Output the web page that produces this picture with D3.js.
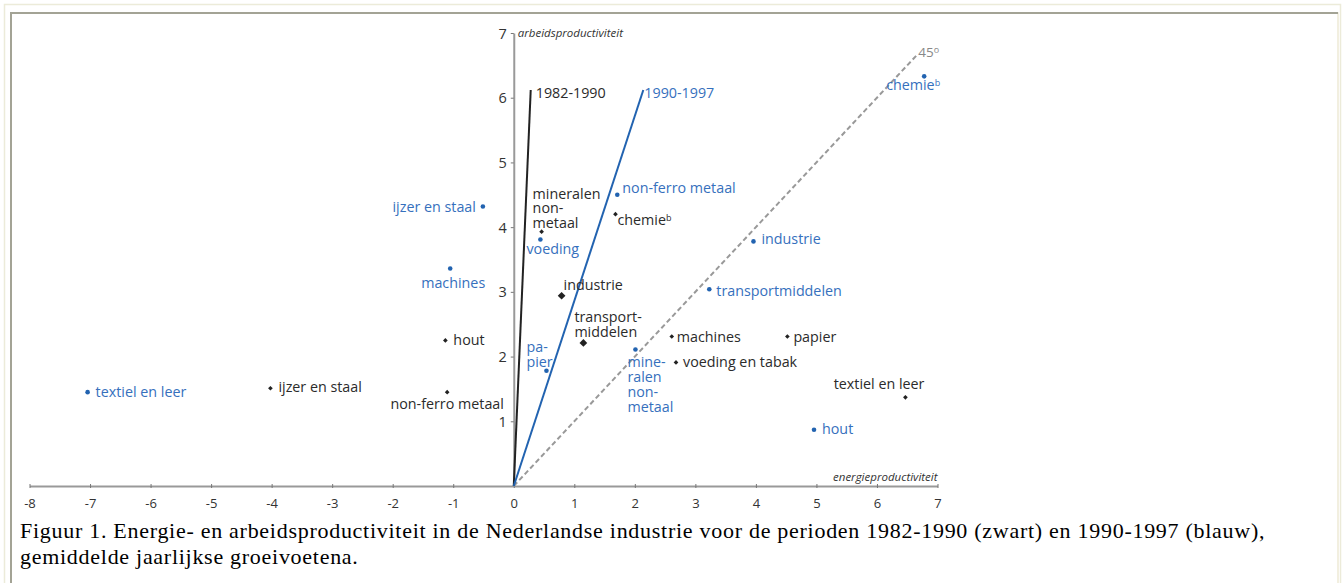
<!DOCTYPE html>
<html><head><meta charset="utf-8">
<script src="https://cdn.jsdelivr.net/npm/d3@7"></script>
<style>
body{margin:0;background:#fff;}
svg{display:block;}
</style>
</head><body>
<svg id="c" width="1344" height="583"></svg>
<script>
// ---- data ----
const xTicks = [-8,-7,-6,-5,-4,-3,-2,-1,0,1,2,3,4,5,6,7];
const yTicks = [1,2,3,4,5,6,7];
const periods = ["1982-1990","1990-1997"];
const trendEndX = [0.28, 2.14];
const trendEndY = [6.12, 6.12];
const diagonalEnd = [6.65, 6.65];
const diagonalLabel = "45";

const blackNames = ["mineralen\nnon-\nmetaal","chemie^b","industrie","transport-\nmiddelen","hout","non-ferro metaal","ijzer en staal","machines","papier","voeding en tabak","textiel en leer"];
const blackX = [0.46,1.68,0.79,1.15,-1.13,-1.10,-4.02,2.61,4.52,2.68,6.47];
const blackY = [3.93,4.20,2.94,2.21,2.25,1.45,1.51,2.31,2.31,1.91,1.37];

const blueNames = ["non-ferro metaal","ijzer en staal","voeding","machines","pa-\npier","mine-\nralen\nnon-\nmetaal","industrie","transportmiddelen","hout","textiel en leer","chemie^b"];
const blueX = [1.71,-0.51,0.44,-1.05,0.54,2.01,3.96,3.23,4.96,-7.04,6.78];
const blueY = [4.50,4.32,3.81,3.36,1.78,2.11,3.78,3.04,0.87,1.45,6.33];

const xTitle = "energieproductiviteit";
const yTitle = "arbeidsproductiviteit";
const captionLines = [
  "Figuur 1. Energie- en arbeidsproductiviteit in de Nederlandse industrie voor de perioden 1982-1990 (zwart) en 1990-1997 (blauw),",
  "gemiddelde jaarlijkse groeivoetena."
];

// ---- layout (label placement relative to points, px) ----
const blackLabelPos = [[-9,-38,"start"],[2,6,"start"],[2,-11,"start"],[-9,-26,"start"],[8,0,"start"],[0,12,"middle"],[8,-1,"start"],[5,0,"start"],[6,0,"start"],[7,0,"start"],[19,-13,"end"]];
const blueLabelPos = [[5,-7,"start"],[-7,1,"end"],[-14,10,"start"],[3,14,"middle"],[-20,-24,"start"],[-8,13,"start"],[8,-2,"start"],[7,2,"start"],[8,-1,"start"],[8,0,"start"],[16,9,"end"]];
const bigBlack = [2,3];

const BLACK = "#222", TEXTBLACK = "#2b2b2b", BLUE = "#2263b0", TEXTBLUE = "#3670bd", GREY = "#999";
const FONT = "'Open Sans', sans-serif";
const LABEL_SIZE = "14.3px";

const svg = d3.select("#c");

// frame
svg.append("rect").attr("x",4.5).attr("y",4.5).attr("width",1336).attr("height",640)
  .attr("fill","none").attr("stroke","#ecebd9").attr("stroke-width",1.5);
svg.append("rect").attr("x",11).attr("y",13).attr("width",1327).attr("height",640)
  .attr("fill","#fff").attr("stroke","#eeead6").attr("stroke-width",1.5);
svg.append("path").attr("d","M11,600V13H1338").attr("fill","none").attr("stroke","#a3a395").attr("stroke-width",2);

const x = d3.scaleLinear().domain([-8,7]).range([29.5,937.5]);
const y = d3.scaleLinear().domain([0,7]).range([486,33]);

// x axis
const gx = svg.append("g").attr("transform",`translate(0,${y(0)})`)
  .call(d3.axisBottom(x).tickValues(xTicks).tickSize(2).tickSizeOuter(0).tickFormat(d=>String(d)));
gx.select(".domain").attr("stroke",GREY).attr("stroke-width",2);
gx.selectAll(".tick line").attr("stroke","#777").attr("y1",-2).attr("y2",2);
gx.selectAll(".tick text").attr("y",17).attr("dy","0.35em").attr("fill","#333")
  .style("font-family",FONT).style("font-size","13px");

// y axis
const gy = svg.append("g").attr("transform",`translate(${x(0)},0)`)
  .call(d3.axisLeft(y).tickValues(yTicks).tickSize(3).tickPadding(4).tickSizeOuter(0).tickFormat(d=>String(d)));
gy.select(".domain").attr("stroke",GREY).attr("stroke-width",2);
gy.selectAll(".tick line").attr("stroke","#777");
gy.selectAll(".tick text").attr("fill","#333").attr("dy","0.35em")
  .style("font-family",FONT).style("font-size","14.5px");

// axis titles
svg.append("text").attr("x",x(0)+4).attr("y",y(7)).attr("dy","0.35em")
  .style("font-family",FONT).style("font-size","11.5px").style("font-style","italic")
  .attr("fill","#333").text(yTitle);
svg.append("text").attr("x",x(7)).attr("y",y(0)-9).attr("dy","0.35em").attr("text-anchor","end")
  .style("font-family",FONT).style("font-size","11.5px").style("font-style","italic")
  .attr("fill","#333").text(xTitle);

// diagonal 45
svg.append("line").attr("x1",x(0)).attr("y1",y(0)).attr("x2",x(diagonalEnd[0])).attr("y2",y(diagonalEnd[1]))
  .attr("stroke",GREY).attr("stroke-width",2).attr("stroke-dasharray","5,3");
const dl = svg.append("text").attr("x",x(diagonalEnd[0])+2).attr("y",y(diagonalEnd[1])-3).attr("dy","0.35em")
  .style("font-family",FONT).style("font-size","13.5px").attr("fill","#888");
dl.append("tspan").text(diagonalLabel);
dl.append("tspan").attr("dy","-0.5em").style("font-size","9px").text("o");

// trend lines
const trendColors = [BLACK, BLUE];
const trendText = [TEXTBLACK, TEXTBLUE];
periods.forEach((p,i)=>{
  svg.append("line").attr("x1",x(0)).attr("y1",y(0)).attr("x2",x(trendEndX[i])).attr("y2",y(trendEndY[i]))
    .attr("stroke",trendColors[i]).attr("stroke-width",2);
  svg.append("text").attr("x",x(trendEndX[i])+(i===0?5:1)).attr("y",y(trendEndY[i])+3).attr("dy","0.35em")
    .style("font-family",FONT).style("font-size",LABEL_SIZE).attr("fill",trendText[i]).text(p);
});

function drawLabel(name, px, py, pos, color){
  const t = svg.append("text").attr("text-anchor",pos[2])
    .style("font-family",FONT).style("font-size",LABEL_SIZE).attr("fill",color);
  const lines = name.split("\n");
  lines.forEach((ln,k)=>{
    const parts = ln.split("^");
    t.append("tspan").attr("x",px+pos[0]).attr("y",py+pos[1]+k*14.7).attr("dy","0.35em").text(parts[0]);
    if(parts[1]) t.append("tspan").attr("dy","-0.45em").style("font-size","9px").text(parts[1]);
  });
}

// black points
blackNames.forEach((n,i)=>{
  const px = x(blackX[i]), py = y(blackY[i]);
  svg.append("path").attr("transform",`translate(${px},${py})`)
    .attr("d",d3.symbol(d3.symbolDiamond2, bigBlack.includes(i) ? 38 : 14)()).attr("fill",BLACK);
  drawLabel(n, px, py, blackLabelPos[i], TEXTBLACK);
});
// blue points
blueNames.forEach((n,i)=>{
  const px = x(blueX[i]), py = y(blueY[i]);
  svg.append("circle").attr("cx",px).attr("cy",py).attr("r",2.3).attr("fill",BLUE);
  drawLabel(n, px, py, blueLabelPos[i], TEXTBLUE);
});

// caption
captionLines.forEach((c,i)=>{
  svg.append("text").attr("x",20).attr("y",538+i*26)
    .style("font-family","'Liberation Serif','Times New Roman',serif").style("font-size","22px")
    .style("letter-spacing","0.72px")
    .attr("fill","#000").text(c);
});
</script>
</body></html>
